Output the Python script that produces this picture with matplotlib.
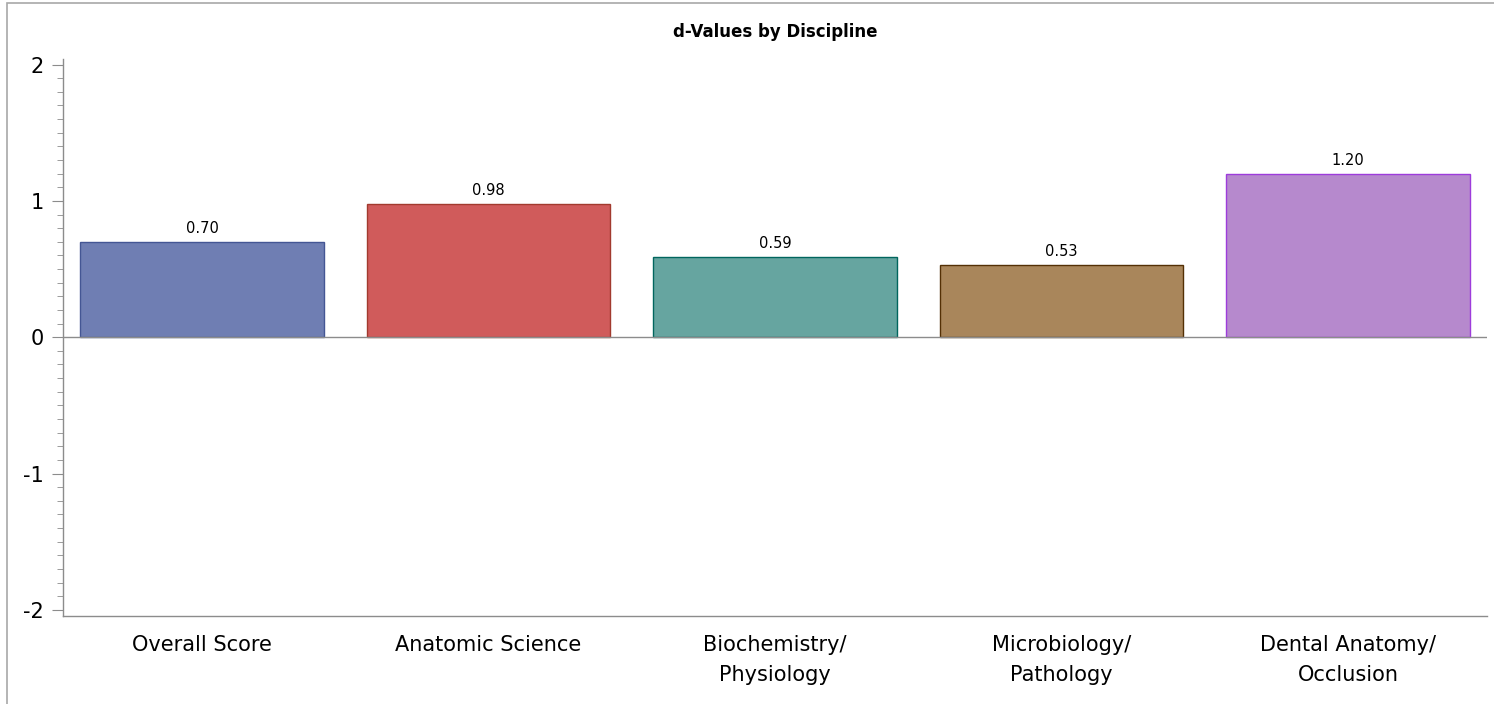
import matplotlib
matplotlib.use("Agg")
import matplotlib.pyplot as plt
from matplotlib.patches import Rectangle
from matplotlib.ticker import MultipleLocator

plt.rcParams["font.family"] = ["DejaVu Sans"]
plt.rcParams["axes.unicode_minus"] = False

# d-values per discipline
disciplines = [
    "Overall Score",
    "Anatomic Science",
    "Biochemistry/\nPhysiology",
    "Microbiology/\nPathology",
    "Dental Anatomy/\nOcclusion",
]
d_values = [0.70, 0.98, 0.59, 0.53, 1.20]
fill_colors = ["#6F7EB3", "#D05B5B", "#66A5A0", "#A9865B", "#B689CD"]
edge_colors = ["#445694", "#A23A2E", "#01665E", "#543005", "#9D3CDB"]

axis_gray = "#8C8C8C"

fig = plt.figure(figsize=(14.94, 7.04), dpi=100)
ax = fig.add_axes([0.0422, 0.125, 0.9531, 0.791])

# outer frame of the graph area (runs off the right and bottom edges)
fig.patches.append(Rectangle((7 / 1494, -0.5), 2.0, 1.5 - 3 / 704,
                             transform=fig.transFigure, fill=False,
                             edgecolor="#A8A8A8", linewidth=1.2))

x = range(len(disciplines))
bars = ax.bar(x, d_values, width=0.85, color=fill_colors,
              edgecolor=edge_colors, linewidth=1.0, zorder=2)
ax.axhline(0, color=axis_gray, linewidth=1.0, zorder=3)

for rect, val in zip(bars, d_values):
    ax.annotate(f"{val:.2f}", (rect.get_x() + rect.get_width() / 2, val),
                xytext=(0, 4), textcoords="offset points",
                ha="center", va="bottom", fontsize=10.5)

ax.set_xlim(-0.485, 4.485)
ax.set_ylim(-2.045, 2.04)
ax.yaxis.set_major_locator(MultipleLocator(1))
ax.yaxis.set_minor_locator(MultipleLocator(0.1))
ax.set_xticks(list(x))
ax.set_xticklabels(disciplines, fontsize=15, linespacing=1.6)
ax.tick_params(axis="x", length=0, pad=14)
ax.tick_params(axis="y", which="major", length=8, color=axis_gray,
               labelsize=15, pad=6)
ax.tick_params(axis="y", which="minor", length=4, color=axis_gray)

for side in ("top", "right"):
    ax.spines[side].set_visible(False)
for side in ("left", "bottom"):
    ax.spines[side].set_color(axis_gray)
    ax.spines[side].set_linewidth(1.0)

fig.text(0.519, 0.9545, "d-Values by Discipline", ha="center", va="center",
         fontsize=12, fontweight="bold")

fig.savefig("out.png", dpi=100)
